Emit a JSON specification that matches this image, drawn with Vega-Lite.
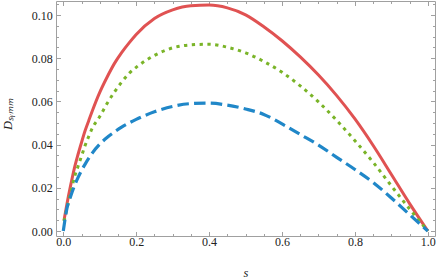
{
  "$schema": "https://vega.github.io/schema/vega-lite/v6.json",
  "width": 379,
  "height": 235,
  "autosize": "none",
  "padding": {"left": 56, "top": 1, "right": 1, "bottom": 44},
  "background": "white",
  "config": {
    "view": {"stroke": null},
    "axis": {
      "grid": false,
      "domainColor": "#a0a0a0",
      "tickColor": "#a0a0a0",
      "domainWidth": 1,
      "tickWidth": 1,
      "labelFont": "Liberation Serif",
      "labelFontSize": 12,
      "labelColor": "#222222",
      "labelFlush": false,
      "labelOverlap": false,
      "titleFont": "Liberation Serif",
      "titleFontStyle": "italic",
      "titleFontWeight": "normal",
      "titleFontSize": 12.5,
      "titleColor": "#222222"
    }
  },
  "data": {
    "values": [
      {"s": 0.002, "D": 0.005, "c": "r"}, {"s": 0.01, "D": 0.0125, "c": "r"}, {"s": 0.02, "D": 0.021, "c": "r"},
      {"s": 0.03, "D": 0.0288, "c": "r"}, {"s": 0.04, "D": 0.0352, "c": "r"}, {"s": 0.05, "D": 0.041, "c": "r"},
      {"s": 0.06, "D": 0.0465, "c": "r"}, {"s": 0.07, "D": 0.0512, "c": "r"}, {"s": 0.08, "D": 0.0558, "c": "r"},
      {"s": 0.1, "D": 0.0642, "c": "r"}, {"s": 0.12, "D": 0.0712, "c": "r"}, {"s": 0.14, "D": 0.0775, "c": "r"},
      {"s": 0.16, "D": 0.0826, "c": "r"}, {"s": 0.18, "D": 0.087, "c": "r"}, {"s": 0.2, "D": 0.091, "c": "r"},
      {"s": 0.25, "D": 0.0984, "c": "r"}, {"s": 0.3, "D": 0.1024, "c": "r"}, {"s": 0.35, "D": 0.1043, "c": "r"},
      {"s": 0.4, "D": 0.1046, "c": "r"}, {"s": 0.45, "D": 0.1033, "c": "r"}, {"s": 0.5, "D": 0.1001, "c": "r"},
      {"s": 0.55, "D": 0.0946, "c": "r"}, {"s": 0.6, "D": 0.0881, "c": "r"}, {"s": 0.65, "D": 0.0806, "c": "r"},
      {"s": 0.7, "D": 0.0722, "c": "r"}, {"s": 0.75, "D": 0.0627, "c": "r"}, {"s": 0.8, "D": 0.0519, "c": "r"},
      {"s": 0.85, "D": 0.0396, "c": "r"}, {"s": 0.9, "D": 0.0262, "c": "r"}, {"s": 0.95, "D": 0.0127, "c": "r"},
      {"s": 1.0, "D": 0.0, "c": "r"},
      {"s": 0.002, "D": 0.0045, "c": "g"}, {"s": 0.01, "D": 0.0105, "c": "g"}, {"s": 0.02, "D": 0.0176, "c": "g"},
      {"s": 0.03, "D": 0.0246, "c": "g"}, {"s": 0.04, "D": 0.0297, "c": "g"}, {"s": 0.05, "D": 0.0347, "c": "g"},
      {"s": 0.06, "D": 0.0397, "c": "g"}, {"s": 0.07, "D": 0.0439, "c": "g"}, {"s": 0.08, "D": 0.0478, "c": "g"},
      {"s": 0.1, "D": 0.053, "c": "g"}, {"s": 0.12, "D": 0.059, "c": "g"}, {"s": 0.14, "D": 0.0643, "c": "g"},
      {"s": 0.16, "D": 0.0689, "c": "g"}, {"s": 0.18, "D": 0.0729, "c": "g"}, {"s": 0.2, "D": 0.0758, "c": "g"},
      {"s": 0.25, "D": 0.0813, "c": "g"}, {"s": 0.3, "D": 0.0848, "c": "g"}, {"s": 0.35, "D": 0.0862, "c": "g"},
      {"s": 0.4, "D": 0.0865, "c": "g"}, {"s": 0.45, "D": 0.0851, "c": "g"}, {"s": 0.5, "D": 0.0825, "c": "g"},
      {"s": 0.55, "D": 0.0785, "c": "g"}, {"s": 0.6, "D": 0.0735, "c": "g"}, {"s": 0.65, "D": 0.0672, "c": "g"},
      {"s": 0.7, "D": 0.0598, "c": "g"}, {"s": 0.75, "D": 0.0512, "c": "g"}, {"s": 0.8, "D": 0.0418, "c": "g"},
      {"s": 0.85, "D": 0.0318, "c": "g"}, {"s": 0.9, "D": 0.0209, "c": "g"}, {"s": 0.95, "D": 0.0102, "c": "g"},
      {"s": 1.0, "D": 0.0, "c": "g"},
      {"s": 0.0, "D": 0.0, "c": "b"}, {"s": 0.01, "D": 0.0105, "c": "b"}, {"s": 0.02, "D": 0.016, "c": "b"},
      {"s": 0.03, "D": 0.0207, "c": "b"}, {"s": 0.04, "D": 0.0246, "c": "b"}, {"s": 0.05, "D": 0.028, "c": "b"},
      {"s": 0.06, "D": 0.031, "c": "b"}, {"s": 0.07, "D": 0.0337, "c": "b"}, {"s": 0.08, "D": 0.0362, "c": "b"},
      {"s": 0.1, "D": 0.0402, "c": "b"}, {"s": 0.12, "D": 0.0433, "c": "b"}, {"s": 0.14, "D": 0.0458, "c": "b"},
      {"s": 0.16, "D": 0.0481, "c": "b"}, {"s": 0.18, "D": 0.05, "c": "b"}, {"s": 0.2, "D": 0.0517, "c": "b"},
      {"s": 0.25, "D": 0.0552, "c": "b"}, {"s": 0.3, "D": 0.0577, "c": "b"}, {"s": 0.35, "D": 0.059, "c": "b"},
      {"s": 0.4, "D": 0.0592, "c": "b"}, {"s": 0.45, "D": 0.0583, "c": "b"}, {"s": 0.5, "D": 0.0565, "c": "b"},
      {"s": 0.55, "D": 0.054, "c": "b"}, {"s": 0.6, "D": 0.0496, "c": "b"}, {"s": 0.65, "D": 0.0447, "c": "b"},
      {"s": 0.7, "D": 0.0398, "c": "b"}, {"s": 0.75, "D": 0.0341, "c": "b"}, {"s": 0.8, "D": 0.0285, "c": "b"},
      {"s": 0.85, "D": 0.0225, "c": "b"}, {"s": 0.9, "D": 0.0153, "c": "b"}, {"s": 0.95, "D": 0.0076, "c": "b"},
      {"s": 1.0, "D": 0.0, "c": "b"}
    ]
  },
  "layer": [
    {
      "transform": [{"filter": "datum.c === 'r'"}],
      "mark": {"type": "line", "color": "#e05252", "strokeWidth": 3, "interpolate": "monotone"},
      "encoding": {
        "x": {"field": "s", "type": "quantitative",
          "scale": {"domain": [-0.02, 1.0196], "nice": false, "zero": false},
          "axis": {"orient": "bottom", "values": [0, 0.2, 0.4, 0.6, 0.8, 1], "format": ".1f",
            "tickSize": -4.5, "labelPadding": 5, "title": "s",
            "titleY": 40, "titleBaseline": "alphabetic", "titleAlign": "center"}},
        "y": {"field": "D", "type": "quantitative",
          "scale": {"domain": [-0.0023, 0.1065], "nice": false, "zero": false},
          "axis": {"orient": "left", "values": [0, 0.02, 0.04, 0.06, 0.08, 0.1], "format": ".2f",
            "tickSize": -4.5, "labelPadding": 8.2, "title": "Dₛᵧₘₘ",
            "titleX": -45, "titleY": 112.5, "titleAngle": 270, "titleBaseline": "alphabetic", "titleAlign": "center"}}
      }
    },
    {
      "transform": [{"filter": "datum.c === 'g'"}],
      "mark": {"type": "line", "color": "#7ab428", "strokeWidth": 3, "strokeDash": [3.3, 4.5], "strokeCap": "butt", "interpolate": "monotone"},
      "encoding": {
        "x": {"field": "s", "type": "quantitative", "scale": {"domain": [-0.02, 1.0196], "nice": false, "zero": false}, "axis": null},
        "y": {"field": "D", "type": "quantitative", "scale": {"domain": [-0.0023, 0.1065], "nice": false, "zero": false}, "axis": null}
      }
    },
    {
      "transform": [{"filter": "datum.c === 'b'"}],
      "mark": {"type": "line", "color": "#2087c8", "strokeWidth": 3.2, "strokeDash": [11.5, 5.2], "strokeCap": "butt", "interpolate": "monotone"},
      "encoding": {
        "x": {"field": "s", "type": "quantitative", "scale": {"domain": [-0.02, 1.0196], "nice": false, "zero": false}, "axis": null},
        "y": {"field": "D", "type": "quantitative", "scale": {"domain": [-0.0023, 0.1065], "nice": false, "zero": false}, "axis": null}
      }
    },
    {
      "mark": {"type": "point", "opacity": 0},
      "encoding": {
        "x": {"field": "s", "type": "quantitative", "scale": {"domain": [-0.02, 1.0196], "nice": false, "zero": false},
          "axis": {"orient": "bottom", "values": [0, 0.05, 0.1, 0.15, 0.2, 0.25, 0.3, 0.35, 0.4, 0.45, 0.5, 0.55, 0.6, 0.65, 0.7, 0.75, 0.8, 0.85, 0.9, 0.95, 1],
            "tickSize": -2.5, "labels": false, "domain": false, "title": null}},
        "y": {"field": "D", "type": "quantitative", "scale": {"domain": [-0.0023, 0.1065], "nice": false, "zero": false},
          "axis": {"orient": "left", "values": [0, 0.005, 0.01, 0.015, 0.02, 0.025, 0.03, 0.035, 0.04, 0.045, 0.05, 0.055, 0.06, 0.065, 0.07, 0.075, 0.08, 0.085, 0.09, 0.095, 0.1, 0.105],
            "tickSize": -2.5, "labels": false, "domain": false, "title": null}}
      }
    },
    {
      "mark": {"type": "point", "opacity": 0},
      "encoding": {
        "x": {"field": "s", "type": "quantitative", "scale": {"domain": [-0.02, 1.0196], "nice": false, "zero": false},
          "axis": {"orient": "top", "values": [0, 0.2, 0.4, 0.6, 0.8, 1], "tickSize": -4.5, "labels": false, "title": null}},
        "y": {"field": "D", "type": "quantitative", "scale": {"domain": [-0.0023, 0.1065], "nice": false, "zero": false},
          "axis": {"orient": "right", "values": [0, 0.02, 0.04, 0.06, 0.08, 0.1], "tickSize": -4.5, "labels": false, "title": null}}
      }
    },
    {
      "mark": {"type": "point", "opacity": 0},
      "encoding": {
        "x": {"field": "s", "type": "quantitative", "scale": {"domain": [-0.02, 1.0196], "nice": false, "zero": false},
          "axis": {"orient": "top", "values": [0, 0.05, 0.1, 0.15, 0.2, 0.25, 0.3, 0.35, 0.4, 0.45, 0.5, 0.55, 0.6, 0.65, 0.7, 0.75, 0.8, 0.85, 0.9, 0.95, 1],
            "tickSize": -2.5, "labels": false, "domain": false, "title": null}},
        "y": {"field": "D", "type": "quantitative", "scale": {"domain": [-0.0023, 0.1065], "nice": false, "zero": false},
          "axis": {"orient": "right", "values": [0, 0.005, 0.01, 0.015, 0.02, 0.025, 0.03, 0.035, 0.04, 0.045, 0.05, 0.055, 0.06, 0.065, 0.07, 0.075, 0.08, 0.085, 0.09, 0.095, 0.1, 0.105],
            "tickSize": -2.5, "labels": false, "domain": false, "title": null}}
      }
    }
  ],
  "resolve": {"axis": {"x": "independent", "y": "independent"}}
}
